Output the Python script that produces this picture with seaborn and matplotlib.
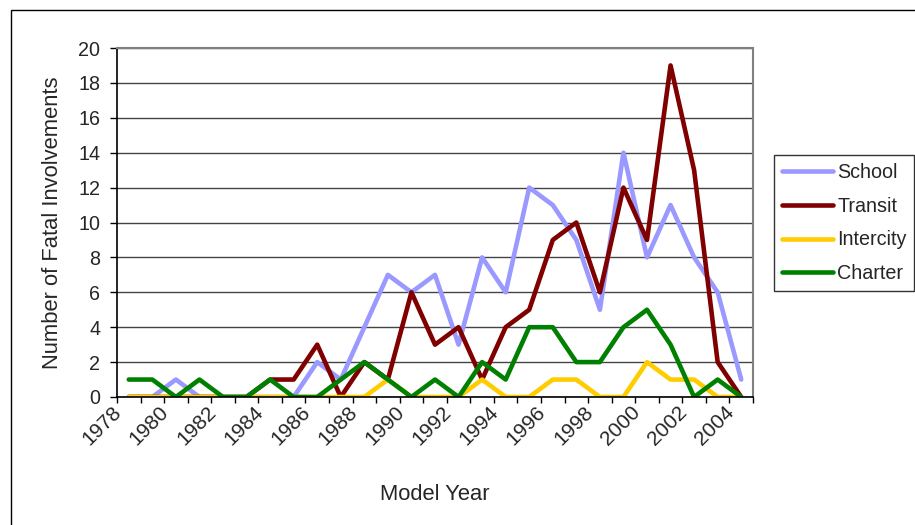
import numpy as np
import pandas as pd
import matplotlib
matplotlib.use("Agg")
import matplotlib.pyplot as plt
import matplotlib.patches as patches
import matplotlib.transforms as mtransforms
import seaborn as sns

# data
years = list(range(1978, 2005))
school = [0, 0, 1, 0, 0, 0, 0, 0, 2, 1, 4, 7, 6, 7, 3, 8, 6, 12, 11, 9, 5, 14, 8, 11, 8, 6, 1]
transit = [0, 0, 0, 0, 0, 0, 1, 1, 3, 0, 2, 1, 6, 3, 4, 1, 4, 5, 9, 10, 6, 12, 9, 19, 13, 2, 0]
intercity = [0, 0, 0, 0, 0, 0, 0, 0, 0, 0, 0, 1, 0, 0, 0, 1, 0, 0, 1, 1, 0, 0, 2, 1, 1, 0, 0]
charter = [1, 1, 0, 1, 0, 0, 1, 0, 0, 1, 2, 1, 0, 1, 0, 2, 1, 4, 4, 2, 2, 4, 5, 3, 0, 1, 0]

series_names = ["School", "Transit", "Intercity", "Charter"]
colors = ["#9999FF", "#800000", "#FFCC00", "#008000"]

df = pd.DataFrame({
    "idx": np.arange(len(years)),
    "School": school,
    "Transit": transit,
    "Intercity": intercity,
    "Charter": charter,
})
long_df = df.melt(id_vars="idx", var_name="Type", value_name="Count")

sns.set_style("white")
plt.rcParams["font.family"] = ["Liberation Sans", "DejaVu Sans"]

TICK_FS = 14.2
XTICK_FS = 15
TITLE_FS = 15.8
LW = 3.3

fig = plt.figure(figsize=(9.15, 5.25), dpi=100)
W, H = 915, 525
ax = fig.add_axes([117 / W, 1 - 397 / H, (753 - 117) / W, (397 - 48) / H])

sns.lineplot(data=long_df, x="idx", y="Count", hue="Type",
             hue_order=series_names, palette=colors, linewidth=LW,
             ax=ax, legend=True)

ax.set_xlim(-0.5, len(years) - 0.5)
ax.set_ylim(0, 20)
ax.set_yticks(range(0, 21, 2))
ax.yaxis.grid(True, color="#444444", linewidth=1)
ax.xaxis.grid(False)
ax.set_axisbelow(True)

# category labels every other year, ticks on category boundaries
ax.set_xticks(np.arange(0, len(years), 2))
ax.set_xticklabels([str(y) for y in years[::2]], rotation=45, ha="right",
                   va="center", rotation_mode="anchor")
ax.set_xticks(np.arange(-0.5, len(years), 1), minor=True)
ax.tick_params(axis="x", which="major", length=0, pad=9, labelsize=XTICK_FS)
ax.tick_params(axis="x", which="minor", length=4, width=1, color="black",
               direction="out", bottom=True)
ax.tick_params(axis="y", length=5, width=1, color="black", direction="out",
               left=True, labelsize=TICK_FS, pad=7)

shift = mtransforms.ScaledTranslation(-10 / 100, 0, fig.dpi_scale_trans)
for lab in ax.get_xticklabels():
    lab.set_transform(lab.get_transform() + shift)

for side in ["left", "bottom"]:
    ax.spines[side].set_color("black")
    ax.spines[side].set_linewidth(1.2)
for side in ["top", "right"]:
    ax.spines[side].set_color("#808080")
    ax.spines[side].set_linewidth(1.5)

ax.set_xlabel("Model Year", fontsize=TITLE_FS, labelpad=25)
ax.set_ylabel("Number of Fatal Involvements", fontsize=TITLE_FS, labelpad=11)

leg = ax.legend(loc="upper left", bbox_to_anchor=(774 / W, 1 - 155 / H),
                bbox_transform=fig.transFigure, frameon=True, fancybox=False,
                edgecolor="black", handlelength=2.6, handletextpad=0.2,
                labelspacing=0.75, borderpad=0.4, fontsize=TICK_FS,
                borderaxespad=0)
leg.get_frame().set_linewidth(1)
for line in leg.get_lines():
    line.set_linewidth(LW)

# outer chart border
fig.patches.append(patches.Rectangle((11 / W, -0.1), 1.5, 1.1 - 10 / H,
                                     transform=fig.transFigure, fill=False,
                                     edgecolor="black", linewidth=1))

fig.savefig("out.png", dpi=100, facecolor="white")
